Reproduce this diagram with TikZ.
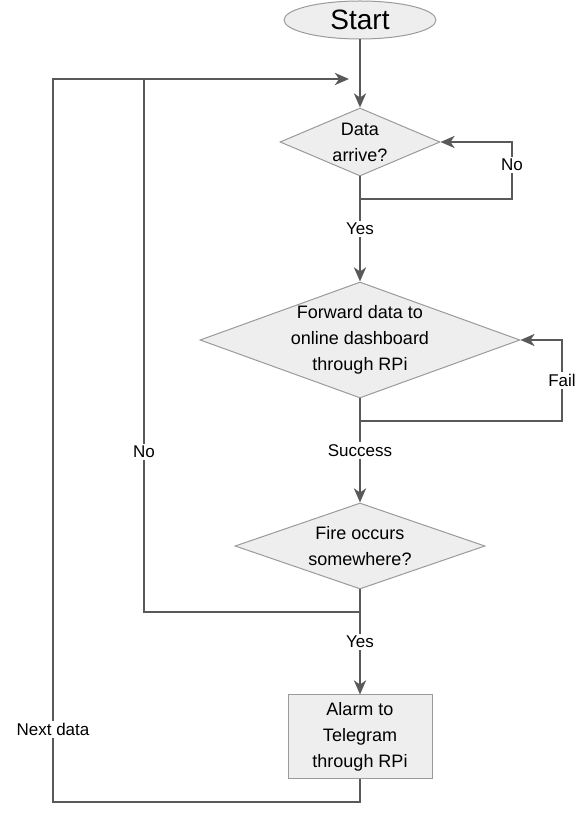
\documentclass[tikz,border=0pt]{standalone}
\usepackage{fontspec}
\setmainfont{Liberation Sans}
\usetikzlibrary{shapes.geometric}
\usetikzlibrary{arrows.meta}
\usetikzlibrary{calc}

\definecolor{flowline}{HTML}{595959}
\definecolor{boxline}{HTML}{9A9A9A}
\definecolor{boxfill}{HTML}{EEEEEE}

\begin{document}
\begin{tikzpicture}[x=1pt, y=1pt,
  every node/.style={font=\fontsize{18}{26}\selectfont, align=center},
  box/.style={draw=boxline, fill=boxfill, line width=1pt},
  decision/.style={box, diamond, inner sep=-4pt},
  flow/.style={draw=flowline, line width=2.6pt},
  arrow/.style={flow, -{Stealth[length=14pt, width=12pt, inset=4pt]}},
  lbl/.style={fill=white, inner sep=2pt, font=\fontsize{17}{20}\selectfont}]
  \useasboundingbox (0,0) rectangle (585,831);

  \node [box, ellipse, minimum width=152pt, minimum height=38pt, inner sep=-2pt,
    font=\fontsize{28}{30}\selectfont] (Start) at (360,811) {Start};
  \node [decision, shape aspect=2.35, minimum width=160pt, minimum height=68pt] (Arrive) at (360,689) {Data\\arrive?};
  \node [decision, shape aspect=2.76, minimum width=320pt, minimum height=116pt] (Forward) at (360,491) {Forward data to\\online dashboard\\through RPi};
  \node [decision, shape aspect=2.9, minimum width=250pt, minimum height=86pt] (Fire) at (360,285) {Fire occurs\\somewhere?};
  \node [box, rectangle, minimum width=144pt, minimum height=84pt] (Alarm) at (360,94) {Alarm to\\Telegram\\through RPi};

  \coordinate (Entry) at (349,752);
  \coordinate (ArriveNo) at (360,632);
  \coordinate (ForwardFail) at (360,410);
  \coordinate (FireNo) at (360,219);
  \coordinate (Next) at (360,29);

  % main line
  \draw [arrow] (Start) -- (Arrive);
  \draw [arrow] (Arrive) -- node [lbl] {Yes} (Forward);
  \draw [arrow] (Forward) -- node [lbl] {Success} (Fire);
  \draw [arrow] (Fire) -- node [lbl] {Yes} (Alarm);

  % loops back
  \draw [arrow] (ArriveNo) -- ++(152,0) |- node [lbl, pos=0.3] {No} (Arrive.east);
  \draw [arrow] (ForwardFail) -- ++(202,0) |- node [lbl, pos=0.25] {Fail} (Forward.east);
  \draw [arrow] (FireNo) -| node [lbl, pos=0.65] {No} (144,752) -- (Entry);
  \draw [flow] (Alarm) -- (Next) -| node [lbl, pos=0.55] {Next data} (53,752) -- (144,752);
\end{tikzpicture}
\end{document}
